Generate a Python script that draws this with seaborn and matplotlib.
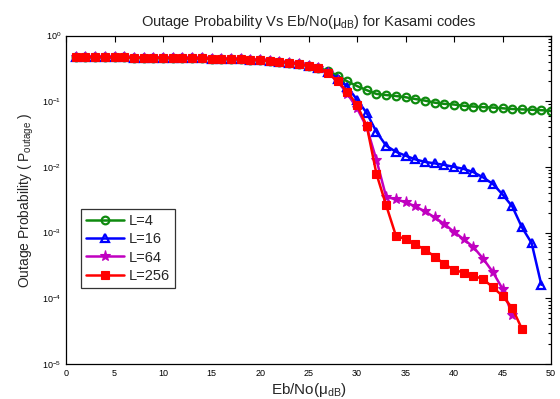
import numpy as np
import pandas as pd
import matplotlib
matplotlib.use("Agg")
import matplotlib.pyplot as plt
import seaborn as sns
from matplotlib.ticker import LogLocator, FixedLocator, NullFormatter

# ---------------- data ----------------
common = [0.47, 0.47, 0.47, 0.47, 0.465, 0.465, 0.46, 0.46, 0.46, 0.455,
          0.455, 0.45, 0.45, 0.45, 0.445, 0.44, 0.44, 0.435, 0.43, 0.42,
          0.41, 0.40, 0.385, 0.37, 0.345, 0.315]

x_L4 = list(range(1, 51))
p_L4 = common[:25] + [0.32, 0.29, 0.245, 0.20, 0.17, 0.147, 0.129, 0.124, 0.12,
                      0.115, 0.108, 0.102, 0.095, 0.091, 0.089, 0.085, 0.083,
                      0.081, 0.080, 0.078, 0.076, 0.075, 0.074, 0.073, 0.071]

x_L16 = list(range(1, 50))
p_L16 = common + [0.28, 0.22, 0.166, 0.105, 0.066, 0.034, 0.021, 0.017, 0.0148,
                  0.013, 0.0119, 0.0113, 0.0107, 0.010, 0.0093, 0.0083, 0.0069,
                  0.0055, 0.0038, 0.0025, 0.0012, 0.00069, 0.00016]

x_L64 = list(range(1, 47))
p_L64 = common + [0.27, 0.20, 0.13, 0.078, 0.040, 0.0127, 0.0035, 0.0032, 0.0029,
                  0.0025, 0.0021, 0.0017, 0.00135, 0.00102, 0.00079, 0.0006,
                  0.0004, 0.00025, 0.000139, 5.6e-5]

x_L256 = list(range(1, 48))
p_L256 = common + [0.27, 0.20, 0.14, 0.087, 0.042, 0.0078, 0.0026, 0.0009, 0.00079,
                   0.00066, 0.00055, 0.00043, 0.00033, 0.00027, 0.000245, 0.00022,
                   0.000195, 0.000147, 0.000108, 7.1e-5, 3.4e-5]

labels = ["L=4", "L=16", "L=64", "L=256"]
x_ticks = [0, 5, 10, 15, 20, 25, 30, 35, 40, 45, 50]
y_ticks = [1e-5, 1e-4, 1e-3, 1e-2, 1e-1, 1e0]
y_tick_labels = [r"$10^{-5}$", r"$10^{-4}$", r"$10^{-3}$", r"$10^{-2}$", r"$10^{-1}$", r"$10^{0}$"]

# ---------------- plot ----------------
sns.set_style("white")
plt.rcParams["font.family"] = ["Liberation Sans", "DejaVu Sans"]
plt.rcParams["mathtext.fontset"] = "custom"
plt.rcParams["mathtext.rm"] = "Liberation Sans"
plt.rcParams["mathtext.it"] = "Liberation Sans"

fig = plt.figure(figsize=(5.6, 3.99), dpi=100)
ax = fig.add_axes([0.118, 0.088, 0.866, 0.823])

styles = [
    (x_L4, p_L4, "#0f8a0f", "o", dict(markerfacecolor="none", markersize=5.5, markeredgewidth=1.6)),
    (x_L16, p_L16, "#0000ff", "^", dict(markerfacecolor="none", markersize=5.5, markeredgewidth=1.6)),
    (x_L64, p_L64, "#c000c0", "*", dict(markersize=8, markeredgewidth=0.8)),
    (x_L256, p_L256, "#ff0000", "s", dict(markersize=5.5, markeredgewidth=0.8)),
]
for (xs, ps, col, mk, kw), lab in zip(styles, labels):
    df = pd.DataFrame({"x": xs, "p": ps})
    sns.lineplot(data=df, x="x", y="p", ax=ax, color=col, marker=mk,
                 markeredgecolor=col, linewidth=1.8, label=lab, **kw)

ax.set_yscale("log")
ax.set_xlim(0, 50)
ax.set_ylim(1e-5, 1)
ax.xaxis.set_major_locator(FixedLocator(x_ticks))
ax.set_xticklabels([str(t) for t in x_ticks])
ax.yaxis.set_major_locator(FixedLocator(y_ticks))
ax.set_yticklabels(y_tick_labels)
ax.yaxis.set_minor_locator(LogLocator(base=10, subs=np.arange(2, 10), numticks=20))
ax.yaxis.set_minor_formatter(NullFormatter())

ax.tick_params(axis="both", which="both", direction="in", top=True, right=True,
               labelsize=6.5, colors="black", width=0.8)
ax.tick_params(axis="both", which="major", length=4)
ax.tick_params(axis="y", which="minor", length=2)
for s in ax.spines.values():
    s.set_color("black")
    s.set_linewidth(0.9)

ax.set_title(r"Outage Probability Vs Eb/No($\mu_{dB}$) for Kasami codes", fontsize=10.5, pad=7)
ax.set_xlabel(r"Eb/No($\mu_{dB}$)", fontsize=11, labelpad=2)
ax.set_ylabel(r"Outage Probability ( P$_{outage}$ )", fontsize=10, labelpad=4)

leg = ax.legend(loc="lower left", bbox_to_anchor=(0.031, 0.231), borderaxespad=0,
                fontsize=10.5, frameon=True, fancybox=False, edgecolor="black",
                handlelength=2.6, borderpad=0.35, labelspacing=0.3, handletextpad=0.3)
leg.get_frame().set_linewidth(0.9)

fig.savefig("out.png", dpi=100, facecolor="white")
